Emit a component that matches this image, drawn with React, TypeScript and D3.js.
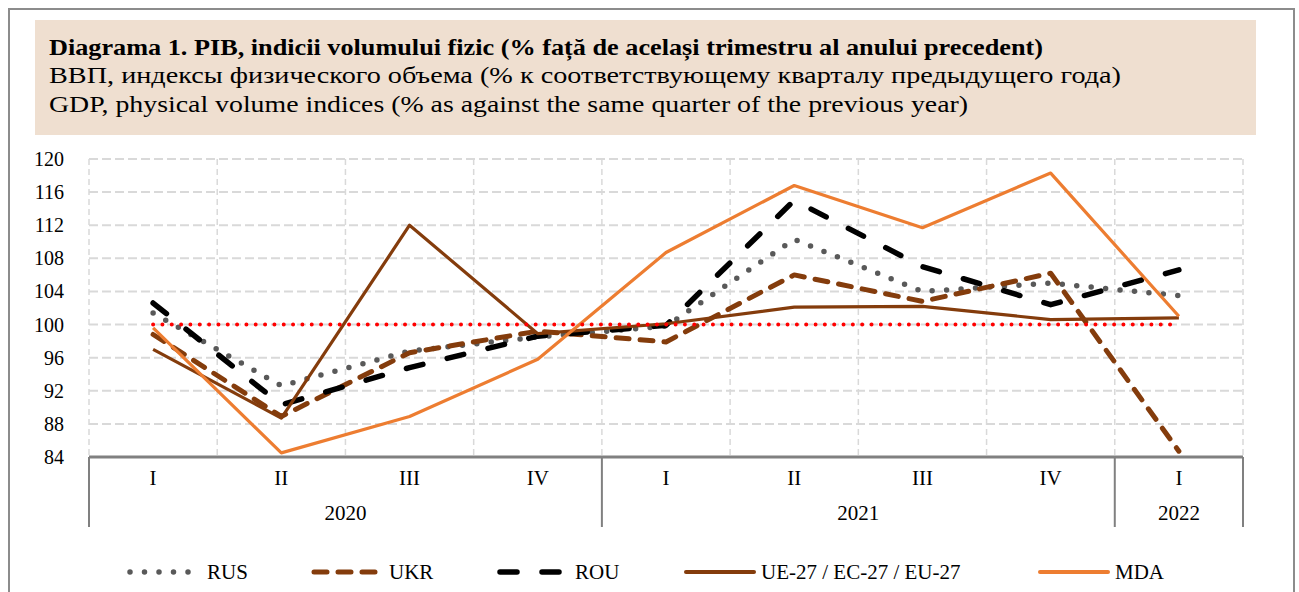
import React from "react";
import * as d3 from "d3";

const quarters = ["I", "II", "III", "IV", "I", "II", "III", "IV", "I"];
const years = [
  { label: "2020", span: 4 },
  { label: "2021", span: 4 },
  { label: "2022", span: 1 },
];
const yTicks = [84, 88, 92, 96, 100, 104, 108, 112, 116, 120];

const rus = [101.4, 92.6, 96.8, 98.5, 99.8, 110.3, 104.0, 105.0, 103.5];
const ukr = [98.8, 88.9, 96.6, 99.2, 97.9, 106.0, 102.8, 106.2, 84.7];
const rou = [102.6, 90.3, 94.8, 98.6, 99.9, 115.0, 107.0, 102.4, 106.6];
const eu = [97.0, 88.7, 112.0, 98.9, 100.1, 102.1, 102.2, 100.6, 100.8];
const mda = [99.6, 84.5, 88.9, 95.8, 108.7, 116.8, 111.7, 118.3, 101.0];
const baseline = [100, 100, 100, 100, 100, 100, 100, 100, 100];

const titleLines = [
  "Diagrama 1. PIB, indicii volumului fizic (% față de același trimestru al anului precedent)",
  "ВВП, индексы физического объема (% к соответствующему кварталу предыдущего года)",
  "GDP, physical volume indices (% as against the same quarter of the previous year)",
];

const FONT = "'Liberation Serif', 'DejaVu Serif', serif";

type Style = { color: string; width: number; legendWidth: number; dash?: string; cap?: string };

const series: { name: string; values: number[]; style: Style }[] = [
  { name: "RUS", values: rus, style: { color: "#595959", width: 5.5, legendWidth: 5.5, dash: "0 14.5", cap: "round" } },
  { name: "UKR", values: ukr, style: { color: "#843C0C", width: 5, legendWidth: 5, dash: "13 11", cap: "round" } },
  { name: "ROU", values: rou, style: { color: "#000000", width: 5.5, legendWidth: 5.5, dash: "17 25", cap: "round" } },
  { name: "UE-27 / EC-27 / EU-27", values: eu, style: { color: "#843C0C", width: 3.2, legendWidth: 4 } },
  { name: "MDA", values: mda, style: { color: "#ED7D31", width: 3.2, legendWidth: 4 } },
];

const legendPos = [
  { x1: 130, x2: 192, tx: 207 },
  { x1: 314, x2: 375, tx: 389 },
  { x1: 500, x2: 560, tx: 575 },
  { x1: 686, x2: 754, tx: 761 },
  { x1: 1040, x2: 1108, tx: 1115 },
];

export default function App() {
  const left = 89, right = 1243, top = 159, bottom = 457;
  const x = d3.scalePoint<number>().domain(quarters.map((_, i) => i)).range([left, right]).padding(0.5);
  const step = x.step();
  const y = d3.scaleLinear().domain([84, 120]).range([bottom, top]);
  const line = d3.line<number>().x((_, i) => x(i) as number).y((v) => y(v));

  const boundaries = d3.range(quarters.length + 1).map((i) => left + i * step);
  let acc = 0;
  const yearCells = years.map((yr) => {
    const x0 = left + acc * step;
    acc += yr.span;
    const x1 = left + acc * step;
    return { ...yr, x0, x1 };
  });

  return (
    <svg width={1299} height={592} style={{ position: "absolute", left: 0, top: 0, background: "#fff" }} fontFamily={FONT}>
      <rect x={0} y={0} width={1299} height={592} fill="#fff" />
      <rect x={9} y={9} width={1285} height={640} fill="none" stroke="#8C8C8C" strokeWidth={2} />
      <rect x={35} y={20} width={1221} height={115} fill="#EFDFD0" />
      {titleLines.map((t, i) => (
        <text
          key={i}
          x={49}
          y={[55, 83, 112][i]}
          fontSize={23}
          fontWeight={i === 0 ? "bold" : "normal"}
          fill="#000"
          textLength={[994, 1072, 919][i]}
          lengthAdjust="spacingAndGlyphs"
        >
          {t}
        </text>
      ))}

      {/* gridlines */}
      {yTicks.filter((t) => t !== 84).map((t) => (
        <line key={t} x1={left} x2={right} y1={y(t)} y2={y(t)} stroke="#D9D9D9" strokeWidth={2} strokeDasharray="9 4" />
      ))}
      {boundaries.map((bx, i) => (
        <line key={i} x1={bx} x2={bx} y1={top} y2={bottom} stroke="#D9D9D9" strokeWidth={1.5} strokeDasharray="6 4" />
      ))}

      {/* y tick labels */}
      {yTicks.map((t) => (
        <text key={t} x={64} y={y(t) + 7} fontSize={20} textAnchor="end" fill="#000">
          {t}
        </text>
      ))}

      {/* series */}
      {series.map((s) => (
        <path
          key={s.name}
          d={line(s.values) || ""}
          fill="none"
          stroke={s.style.color}
          strokeWidth={s.style.width}
          strokeDasharray={s.style.dash}
          strokeLinecap={(s.style.cap as any) || "butt"}
          strokeLinejoin="round"
        />
      ))}
      <path d={line(baseline) || ""} fill="none" stroke="#FF0000" strokeWidth={4} strokeDasharray="0 9.33" strokeLinecap="round" />

      {/* x axis */}
      <line x1={left} x2={right} y1={bottom} y2={bottom} stroke="#808080" strokeWidth={3} />
      {[left, ...yearCells.map((c) => c.x1)].map((bx, i) => (
        <line key={i} x1={bx} x2={bx} y1={bottom} y2={527} stroke="#808080" strokeWidth={2} />
      ))}
      {quarters.map((q, i) => (
        <text key={i} x={x(i)} y={485} fontSize={21} textAnchor="middle" fill="#000">
          {q}
        </text>
      ))}
      {yearCells.map((c) => (
        <text key={c.label} x={(c.x0 + c.x1) / 2} y={520} fontSize={21} textAnchor="middle" fill="#000">
          {c.label}
        </text>
      ))}

      {/* legend */}
      {series.map((s, i) => {
        const p = legendPos[i];
        return (
          <g key={s.name}>
            <line
              x1={p.x1}
              x2={p.x2}
              y1={572}
              y2={572}
              stroke={s.style.color}
              strokeWidth={s.style.legendWidth}
              strokeDasharray={s.style.dash}
              strokeLinecap={"round"}
            />
            <text x={p.tx} y={579} fontSize={21} fill="#000">
              {s.name}
            </text>
          </g>
        );
      })}
    </svg>
  );
}
